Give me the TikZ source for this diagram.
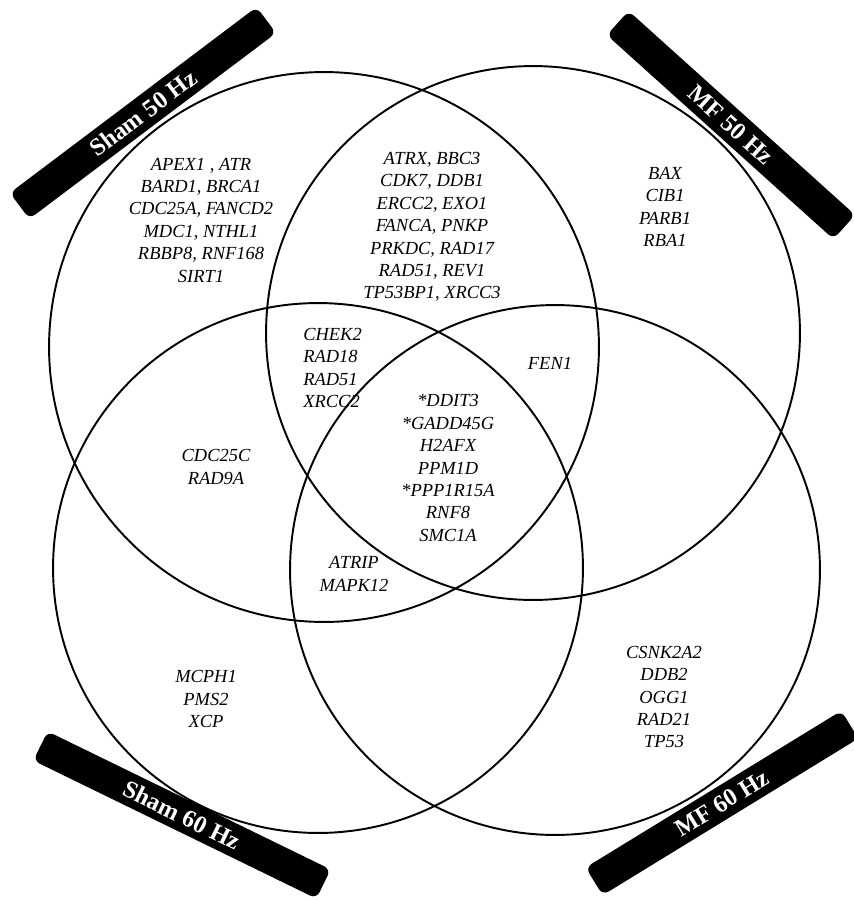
\documentclass[tikz,border=0pt]{standalone}
\usepackage{fontspec}
\setmainfont{Liberation Serif}
\usetikzlibrary{positioning}

\begin{document}
\begin{tikzpicture}[x=0.02cm, y=-0.02cm,
  % Node Styles
  setcircle/.style={circle, draw, line width=1.1pt, inner sep=0pt},
  setlabel/.style={rectangle, rounded corners=4pt, fill=black, text=white, minimum width=6.1cm, minimum height=0.65cm, inner sep=0pt, font=\fontsize{14}{16}\selectfont\bfseries},
  genes/.style={align=center, inner sep=0pt, font=\fontsize{10.5}{12.75}\selectfont\itshape},
]

\useasboundingbox (0,0) rectangle (854,900);

% Venn sets
\node[setcircle, minimum size=11cm] (sham50) at (324,347) {};
\node[setcircle, minimum size=10.68cm] (mf50) at (533,333) {};
\node[setcircle, minimum size=10.6cm] (sham60) at (318,568) {};
\node[setcircle, minimum size=10.6cm] (mf60) at (555,570) {};

% Gene lists
\node[genes] (onlySham50) at (201,220) {APEX1 , ATR\\BARD1, BRCA1\\CDC25A, FANCD2\\MDC1, NTHL1\\RBBP8, RNF168\\SIRT1};
\node[genes] (sham50mf50) at (432,227) {ATRX, BBC3\\CDK7, DDB1\\ERCC2, EXO1\\FANCA, PNKP\\PRKDC, RAD17\\RAD51, REV1\\TP53BP1, XRCC3};
\node[genes] (onlyMF50) at (665,207) {BAX\\CIB1\\PARB1\\RBA1};
\node[genes, align=left, anchor=west] (threeLeft) at (303,368) {CHEK2\\RAD18\\RAD51\\XRCC2};
\node[genes] (mf50mf60) at (550,363) {FEN1};
\node[genes] (allSets) at (448,468) {*DDIT3\\*GADD45G\\H2AFX\\PPM1D\\*PPP1R15A\\RNF8\\SMC1A};
\node[genes] (sham50sham60) at (216,467) {CDC25C\\RAD9A};
\node[genes] (threeBottom) at (354,574) {ATRIP\\MAPK12};
\node[genes] (onlySham60) at (206,699) {MCPH1\\PMS2\\XCP};
\node[genes] (onlyMF60) at (664,697) {CSNK2A2\\DDB2\\OGG1\\RAD21\\TP53};

% Set labels
\node[setlabel, minimum width=6.18cm, rotate=37] (lblSham50) at (143,113) {Sham 50 Hz};
\node[setlabel, rotate=-42] (lblMF50) at (731,125) {MF 50 Hz};
\node[setlabel, minimum width=6.3cm, rotate=-26] (lblSham60) at (182,815) {Sham 60 Hz};
\node[setlabel, minimum width=6.0cm, rotate=31.5] (lblMF60) at (722,803) {MF 60 Hz};

\end{tikzpicture}
\end{document}
